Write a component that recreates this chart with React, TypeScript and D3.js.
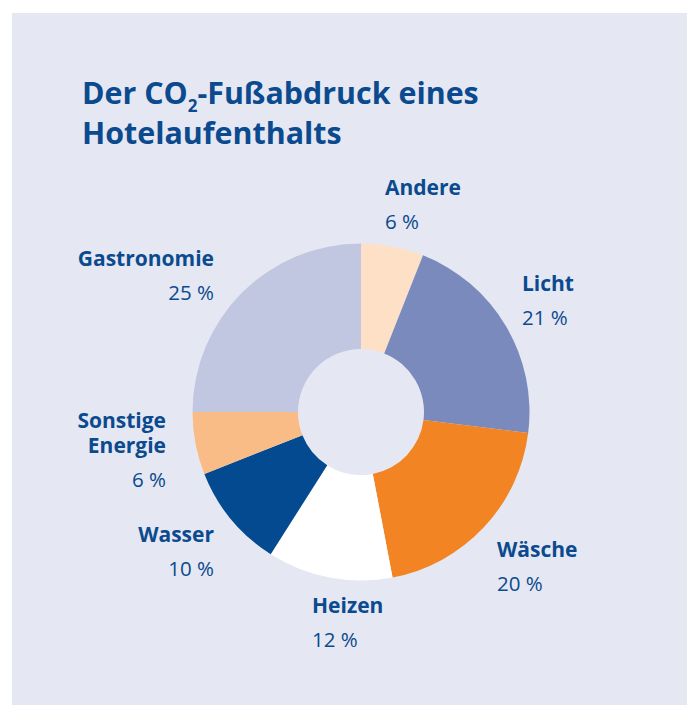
import React from "react";
import * as d3 from "d3";

const categories = ["Andere", "Licht", "Wäsche", "Heizen", "Wasser", "Sonstige Energie", "Gastronomie"];
const values = [6, 21, 20, 12, 10, 6, 25];
const colors = ["#fde0c6", "#7a8abd", "#f28424", "#ffffff", "#034a91", "#f9bc86", "#c1c6e1"];
const labelLines = [["Andere"], ["Licht"], ["Wäsche"], ["Heizen"], ["Wasser"], ["Sonstige", "Energie"], ["Gastronomie"]];
const pctLabels = ["6 %", "21 %", "20 %", "12 %", "10 %", "6 %", "25 %"];

// label anchor positions (layout)
const labelPos: { x: number; y: number; anchor: "start" | "end" }[] = [
  { x: 385, y: 195, anchor: "start" },
  { x: 522, y: 291, anchor: "start" },
  { x: 497, y: 557, anchor: "start" },
  { x: 312, y: 613, anchor: "start" },
  { x: 214, y: 542, anchor: "end" },
  { x: 166, y: 428, anchor: "end" },
  { x: 214, y: 266, anchor: "end" },
];

const BLUE = "#0b4a8e";
const FONT = "'Open Sans', 'Noto Sans', sans-serif";

export default function App() {
  const W = 687, H = 705;
  const cx = 361, cy = 412, rOuter = 168.5, rInner = 63;
  const pie = d3.pie<number>().sort(null).value((d) => d);
  const arcs = pie(values);
  const arc = d3.arc<d3.PieArcDatum<number>>().innerRadius(rInner).outerRadius(rOuter);

  return (
    <svg width={W} height={H} style={{ position: "absolute", left: 0, top: 0 }}>
      <rect x={0} y={0} width={W} height={H} fill="#ffffff" />
      <rect x={12} y={13} width={W - 12} height={H - 13} fill="#e5e8f2" />
      <text fontFamily={FONT} fontWeight={700} fontSize={30.4} fill={BLUE}>
        <tspan x={82} y={103.5}>Der CO</tspan>
        <tspan fontSize={17} dy={8}>2</tspan>
        <tspan dy={-8}>-Fußabdruck eines</tspan>
        <tspan x={82} y={143.5}>Hotelaufenthalts</tspan>
      </text>
      <g transform={`translate(${cx},${cy})`}>
        {arcs.map((a, i) => (
          <path key={categories[i]} d={arc(a) || ""} fill={colors[i]} />
        ))}
      </g>
      {categories.map((c, i) => {
        const p = labelPos[i];
        const lines = labelLines[i];
        return (
          <g key={c} fontFamily={FONT} fill={BLUE}>
            <text textAnchor={p.anchor} fontWeight={700} fontSize={21}>
              {lines.map((l, j) => (
                <tspan key={l} x={p.x} y={p.y + j * 25}>
                  {l}
                </tspan>
              ))}
            </text>
            <text x={p.x} y={p.y + (lines.length - 1) * 25 + 34} textAnchor={p.anchor} fontWeight={400} fontSize={20.5}>
              {pctLabels[i]}
            </text>
          </g>
        );
      })}
    </svg>
  );
}
